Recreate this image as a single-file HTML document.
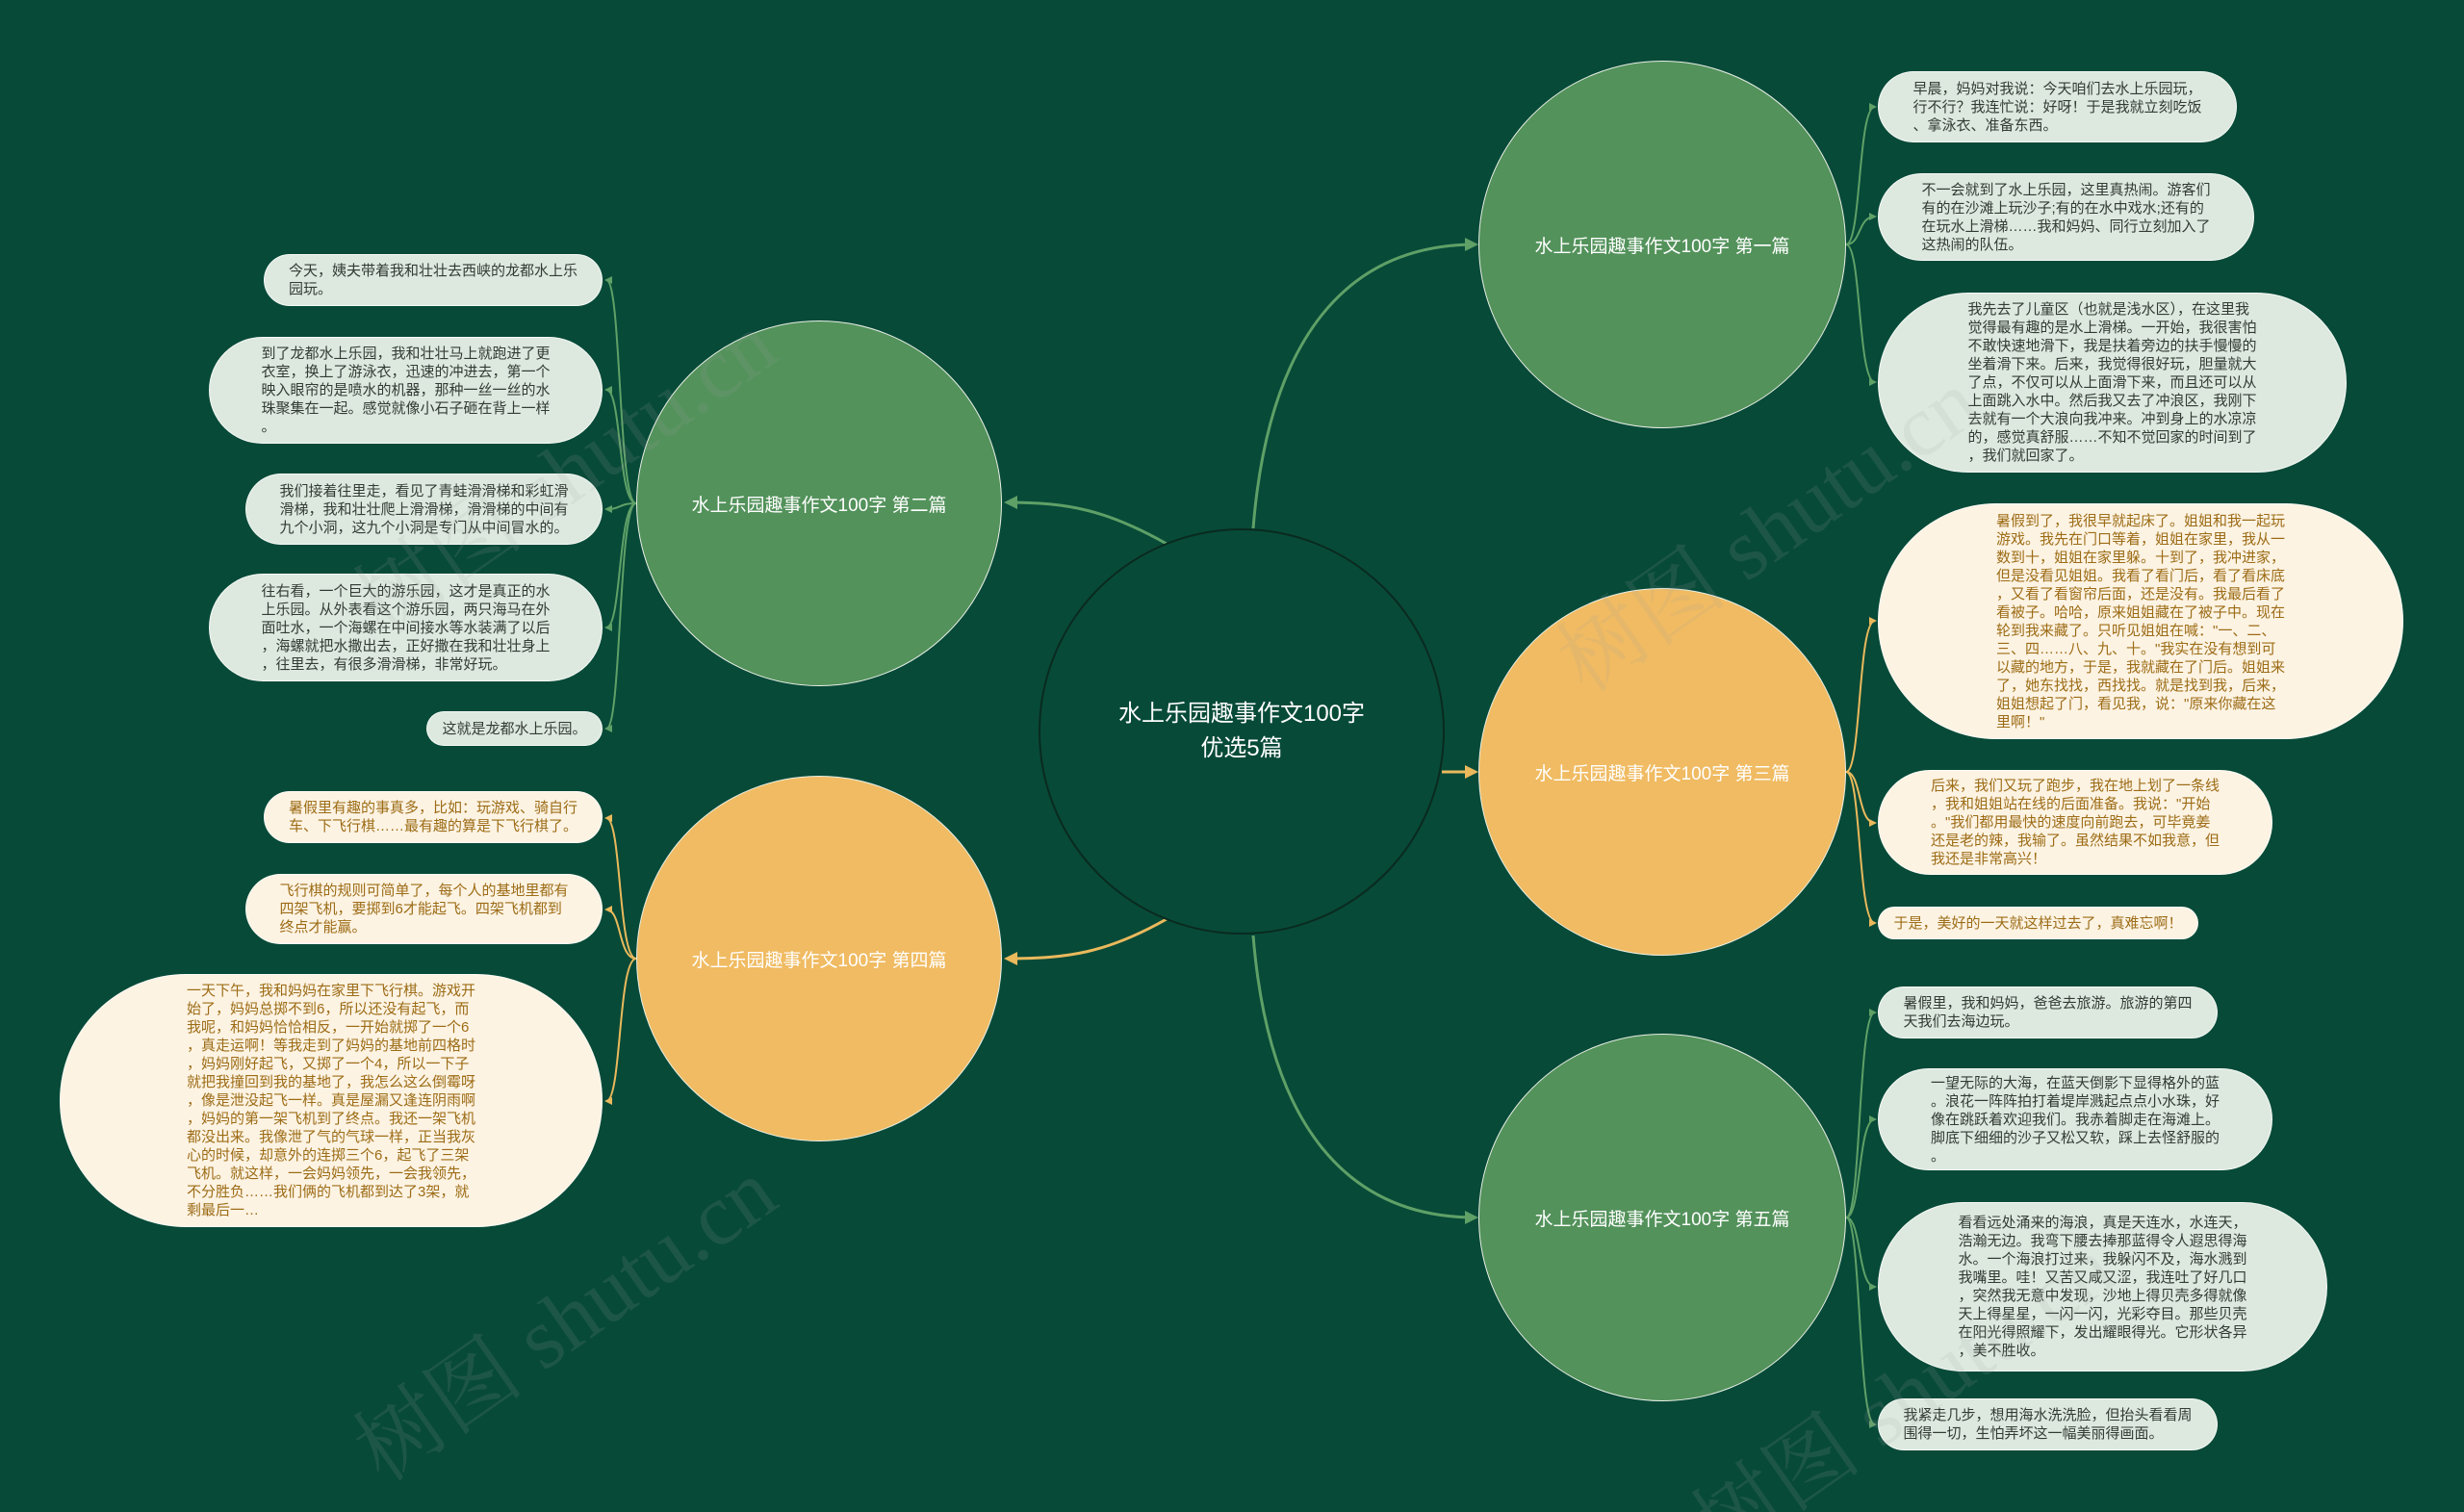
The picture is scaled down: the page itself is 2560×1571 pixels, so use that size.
<!DOCTYPE html>
<html><head><meta charset="utf-8">
<style>
*{margin:0;padding:0;box-sizing:border-box}
html,body{width:2560px;height:1571px;overflow:hidden}
body{background:#074a38;font-family:"Liberation Sans","Noto Sans CJK SC",sans-serif}
#w{position:relative;width:2560px;height:1571px;overflow:hidden;background:#074a38}
svg{position:absolute;left:0;top:0}
.c{position:absolute;border-radius:50%;display:flex;align-items:center;justify-content:center;color:#fff;font-size:19px;border:1.5px solid #e8efe6}
.g{background:#53925b}
.o{background:#f0bb62}
.l{position:absolute;border-radius:60px;display:flex;align-items:center;justify-content:center;font-size:15px;line-height:19px;border:1.5px solid rgba(255,255,255,.7)}
.l div{width:300px;line-break:anywhere;word-break:break-all}
.lg{background:#dde9df;color:#333a35}
.lo{background:#fdf3e3;color:#9c6c16}
.wm{position:absolute;font-family:"Liberation Serif","Noto Serif CJK SC",serif;font-size:90px;color:rgba(160,160,160,.14);transform:rotate(-35deg);white-space:nowrap}
</style></head><body><div id="w">
<svg width="2560" height="1571">
<defs>
<marker id="ag" markerWidth="8" markerHeight="8" refX="6" refY="4" orient="auto" markerUnits="userSpaceOnUse"><path d="M0,0 L8,4 L0,8 z" fill="#5fa067"/></marker>
<marker id="ao" markerWidth="8" markerHeight="8" refX="6" refY="4" orient="auto" markerUnits="userSpaceOnUse"><path d="M0,0 L8,4 L0,8 z" fill="#eab95c"/></marker>
<marker id="ag2" markerWidth="14" markerHeight="14" refX="11" refY="7" orient="auto" markerUnits="userSpaceOnUse"><path d="M0,0 L14,7 L0,14 z" fill="#5fa067"/></marker>
<marker id="ao2" markerWidth="14" markerHeight="14" refX="11" refY="7" orient="auto" markerUnits="userSpaceOnUse"><path d="M0,0 L14,7 L0,14 z" fill="#eab95c"/></marker>
</defs>
<g fill="none" stroke-width="3">
<path d="M1302 549 C1318 350,1400 254,1533 254" stroke="#5fa067" marker-end="url(#ag2)"/>
<path d="M1212 565 C1150 530,1110 522,1046 522" stroke="#5fa067" marker-end="url(#ag2)"/>
<path d="M1498 802 L1533 802" stroke="#eab95c" marker-end="url(#ao2)"/>
<path d="M1212 955 C1150 990,1110 996,1046 996" stroke="#eab95c" marker-end="url(#ao2)"/>
<path d="M1302 972 C1318 1170,1400 1265,1533 1265" stroke="#5fa067" marker-end="url(#ag2)"/>
</g>
<g fill="none" stroke-width="2">
<g stroke="#5fa067" marker-end="url(#ag)">
<path d="M1918 254 C1934 254,1930 111,1948 111"/>
<path d="M1918 254 C1934 254,1930 225,1948 225"/>
<path d="M1918 254 C1934 254,1930 397,1948 397"/>
<path d="M1918 1265 C1934 1265,1930 1052,1948 1052"/>
<path d="M1918 1265 C1934 1265,1930 1163,1948 1163"/>
<path d="M1918 1265 C1934 1265,1930 1337,1948 1337"/>
<path d="M1918 1265 C1934 1265,1930 1480,1948 1480"/>
<path d="M661 523 C642 523,646 291,630 291"/>
<path d="M661 523 C642 523,646 405,630 405"/>
<path d="M661 523 C642 523,646 529,630 529"/>
<path d="M661 523 C642 523,646 652,630 652"/>
<path d="M661 523 C642 523,646 757,630 757"/>
</g>
<g stroke="#eab95c" marker-end="url(#ao)">
<path d="M1918 802 C1934 802,1930 645,1948 645"/>
<path d="M1918 802 C1934 802,1930 855,1948 855"/>
<path d="M1918 802 C1934 802,1930 959,1948 959"/>
<path d="M661 996 C642 996,646 850,630 850"/>
<path d="M661 996 C642 996,646 945,630 945"/>
<path d="M661 996 C642 996,646 1144,630 1144"/>
</g>
</g>
</svg>

<div class="c" style="left:1079px;top:549px;width:422px;height:422px;background:#074a38;border:2px solid #0a2a1f;font-size:24px;line-height:36px;text-align:center">水上乐园趣事作文100字<br>优选5篇</div>
<div class="c g" style="left:1536px;top:63px;width:382px;height:382px">水上乐园趣事作文100字 第一篇</div>
<div class="c o" style="left:1536px;top:611px;width:382px;height:382px">水上乐园趣事作文100字 第三篇</div>
<div class="c g" style="left:1536px;top:1074px;width:382px;height:382px">水上乐园趣事作文100字 第五篇</div>
<div class="c g" style="left:661px;top:333px;width:380px;height:380px">水上乐园趣事作文100字 第二篇</div>
<div class="c o" style="left:661px;top:806px;width:380px;height:380px">水上乐园趣事作文100字 第四篇</div>

<div class="l lg" style="left:1951px;top:74px;width:373px;height:74px"><div>早晨，妈妈对我说：今天咱们去水上乐园玩，行不行？我连忙说：好呀！于是我就立刻吃饭、拿泳衣、准备东西。</div></div>
<div class="l lg" style="left:1951px;top:180px;width:391px;height:91px"><div>不一会就到了水上乐园，这里真热闹。游客们有的在沙滩上玩沙子;有的在水中戏水;还有的在玩水上滑梯……我和妈妈、同行立刻加入了这热闹的队伍。</div></div>
<div class="l lg" style="left:1951px;top:304px;width:487px;height:187px;border-radius:94px"><div>我先去了儿童区（也就是浅水区），在这里我觉得最有趣的是水上滑梯。一开始，我很害怕不敢快速地滑下，我是扶着旁边的扶手慢慢的坐着滑下来。后来，我觉得很好玩，胆量就大了点，不仅可以从上面滑下来，而且还可以从上面跳入水中。然后我又去了冲浪区，我刚下去就有一个大浪向我冲来。冲到身上的水凉凉的，感觉真舒服……不知不觉回家的时间到了，我们就回家了。</div></div>
<div class="l lo" style="left:1951px;top:523px;width:546px;height:245px;border-radius:123px"><div>暑假到了，我很早就起床了。姐姐和我一起玩游戏。我先在门口等着，姐姐在家里，我从一数到十，姐姐在家里躲。十到了，我冲进家，但是没看见姐姐。我看了看门后，看了看床底，又看了看窗帘后面，还是没有。我最后看了看被子。哈哈，原来姐姐藏在了被子中。现在轮到我来藏了。只听见姐姐在喊："一、二、三、四……八、九、十。"我实在没有想到可以藏的地方，于是，我就藏在了门后。姐姐来了，她东找找，西找找。就是找到我，后来，姐姐想起了门，看见我，说："原来你藏在这里啊！"</div></div>
<div class="l lo" style="left:1951px;top:800px;width:410px;height:109px"><div>后来，我们又玩了跑步，我在地上划了一条线，我和姐姐站在线的后面准备。我说："开始。"我们都用最快的速度向前跑去，可毕竟姜还是老的辣，我输了。虽然结果不如我意，但我还是非常高兴！</div></div>
<div class="l lo" style="left:1951px;top:942px;width:333px;height:34px"><div>于是，美好的一天就这样过去了，真难忘啊！</div></div>
<div class="l lg" style="left:1951px;top:1025px;width:353px;height:54px"><div>暑假里，我和妈妈，爸爸去旅游。旅游的第四天我们去海边玩。</div></div>
<div class="l lg" style="left:1951px;top:1110px;width:410px;height:106px"><div>一望无际的大海，在蓝天倒影下显得格外的蓝。浪花一阵阵拍打着堤岸溅起点点小水珠，好像在跳跃着欢迎我们。我赤着脚走在海滩上。脚底下细细的沙子又松又软，踩上去怪舒服的。</div></div>
<div class="l lg" style="left:1951px;top:1249px;width:467px;height:176px;border-radius:88px"><div>看看远处涌来的海浪，真是天连水，水连天，浩瀚无边。我弯下腰去捧那蓝得令人遐思得海水。一个海浪打过来，我躲闪不及，海水溅到我嘴里。哇！又苦又咸又涩，我连吐了好几口，突然我无意中发现，沙地上得贝壳多得就像天上得星星，一闪一闪，光彩夺目。那些贝壳在阳光得照耀下，发出耀眼得光。它形状各异，美不胜收。</div></div>
<div class="l lg" style="left:1951px;top:1453px;width:353px;height:54px"><div>我紧走几步，想用海水洗洗脸，但抬头看看周围得一切，生怕弄坏这一幅美丽得画面。</div></div>

<div class="l lg" style="left:274px;top:264px;width:352px;height:54px"><div>今天，姨夫带着我和壮壮去西峡的龙都水上乐园玩。</div></div>
<div class="l lg" style="left:217px;top:350px;width:409px;height:111px"><div>到了龙都水上乐园，我和壮壮马上就跑进了更衣室，换上了游泳衣，迅速的冲进去，第一个映入眼帘的是喷水的机器，那种一丝一丝的水珠聚集在一起。感觉就像小石子砸在背上一样。</div></div>
<div class="l lg" style="left:255px;top:492px;width:371px;height:74px"><div>我们接着往里走，看见了青蛙滑滑梯和彩虹滑滑梯，我和壮壮爬上滑滑梯，滑滑梯的中间有九个小洞，这九个小洞是专门从中间冒水的。</div></div>
<div class="l lg" style="left:217px;top:596px;width:409px;height:112px"><div>往右看，一个巨大的游乐园，这才是真正的水上乐园。从外表看这个游乐园，两只海马在外面吐水，一个海螺在中间接水等水装满了以后，海螺就把水撒出去，正好撒在我和壮壮身上，往里去，有很多滑滑梯，非常好玩。</div></div>
<div class="l lg" style="left:443px;top:739px;width:183px;height:36px"><div style="width:150px">这就是龙都水上乐园。</div></div>
<div class="l lo" style="left:274px;top:822px;width:352px;height:54px"><div>暑假里有趣的事真多，比如：玩游戏、骑自行车、下飞行棋……最有趣的算是下飞行棋了。</div></div>
<div class="l lo" style="left:255px;top:908px;width:371px;height:73px"><div>飞行棋的规则可简单了，每个人的基地里都有四架飞机，要掷到6才能起飞。四架飞机都到终点才能赢。</div></div>
<div class="l lo" style="left:62px;top:1012px;width:564px;height:263px;border-radius:132px"><div>一天下午，我和妈妈在家里下飞行棋。游戏开始了，妈妈总掷不到6，所以还没有起飞，而我呢，和妈妈恰恰相反，一开始就掷了一个6，真走运啊！等我走到了妈妈的基地前四格时，妈妈刚好起飞，又掷了一个4，所以一下子就把我撞回到我的基地了，我怎么这么倒霉呀，像是泄没起飞一样。真是屋漏又逢连阴雨啊，妈妈的第一架飞机到了终点。我还一架飞机都没出来。我像泄了气的气球一样，正当我灰心的时候，却意外的连掷三个6，起飞了三架飞机。就这样，一会妈妈领先，一会我领先，不分胜负……我们俩的飞机都到达了3架，就剩最后一…</div></div>

<div class="wm" style="left:330px;top:420px">树图 shutu.cn</div>
<div class="wm" style="left:1580px;top:480px">树图 shutu.cn</div>
<div class="wm" style="left:330px;top:1300px">树图 shutu.cn</div>
<div class="wm" style="left:1720px;top:1380px">树图 shutu.cn</div>
</div></body></html>
